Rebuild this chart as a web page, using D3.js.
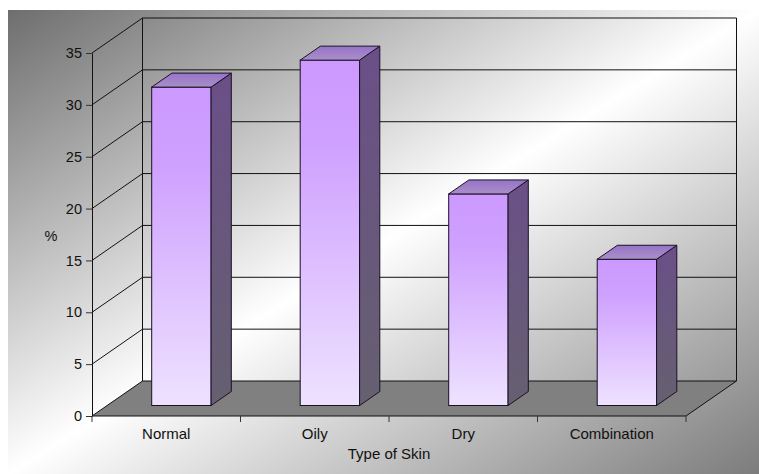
<!DOCTYPE html>
<html>
<head>
<meta charset="utf-8">
<script src="https://cdn.jsdelivr.net/npm/d3@7/dist/d3.min.js"></script>
<style>
  html, body { margin: 0; padding: 0; background: #fff; }
  svg { display: block; }
  text { font-family: "Liberation Sans", Arial, sans-serif; fill: #111; }
</style>
</head>
<body>
<svg id="chart" width="759" height="474"></svg>
<script>
// Skin type survey, share of respondents (%)
const categories = ["Normal", "Oily", "Dry", "Combination"];
const values = [30.7, 33.3, 20.4, 14.1];
const yTicks = [0, 5, 10, 15, 20, 25, 30, 35];
const yTitle = "%";
const xTitle = "Type of Skin";

const W = 759, H = 474;
const svg = d3.select("#chart");
const defs = svg.append("defs");

// Frame geometry: front plane of the floor and the oblique depth offset
const x0 = 92, x1 = 686, yBase = 416, plotH = 363;
const depthDX = 50.5, depthDY = -35;
const barFront = 0.3, barBack = 0.7;
const proj = (px, py, d) => [px + depthDX * d, py + depthDY * d];

const y = d3.scaleLinear().domain([0, 35]).range([yBase, yBase - plotH]);
const x = d3.scaleBand().domain(categories).range([x0, x1])
  .paddingInner(0.6).paddingOuter(0.3);

// Chart area background: diagonal gray-white-gray gradient
const bg = defs.append("linearGradient").attr("id", "bg")
  .attr("x1", 0).attr("y1", 0).attr("x2", 1).attr("y2", 1);
bg.append("stop").attr("offset", 0).attr("stop-color", "#6e6e6e");
bg.append("stop").attr("offset", 0.5).attr("stop-color", "#ffffff");
bg.append("stop").attr("offset", 1).attr("stop-color", "#7c7c7c");
svg.append("rect").attr("x", 8).attr("y", 10).attr("width", W - 8).attr("height", H - 10)
  .attr("fill", "url(#bg)");

// Bar face gradients
const gFront = defs.append("linearGradient").attr("id", "gFront")
  .attr("x1", 0).attr("y1", 0).attr("x2", 0).attr("y2", 1);
gFront.append("stop").attr("offset", 0).attr("stop-color", "#cc99ff");
gFront.append("stop").attr("offset", 0.25).attr("stop-color", "#cfa1ff");
gFront.append("stop").attr("offset", 1).attr("stop-color", "#eee2ff");
const gSide = defs.append("linearGradient").attr("id", "gSide")
  .attr("x1", 0).attr("y1", 0).attr("x2", 0).attr("y2", 1);
gSide.append("stop").attr("offset", 0).attr("stop-color", "#6a4f88");
gSide.append("stop").attr("offset", 1).attr("stop-color", "#666070");
const gTop = defs.append("linearGradient").attr("id", "gTop")
  .attr("x1", 0).attr("y1", 0).attr("x2", 0).attr("y2", 1);
gTop.append("stop").attr("offset", 0).attr("stop-color", "#9673c8");
gTop.append("stop").attr("offset", 1).attr("stop-color", "#a990c8");

const line = d3.line();

// Floor
svg.append("path")
  .attr("d", line([[x0, yBase], [x1, yBase], proj(x1, yBase, 1), proj(x0, yBase, 1)]) + "Z")
  .attr("fill", "#808080").attr("stroke", "#111").attr("stroke-width", 1);

// Gridlines on back wall and left side wall
const grid = svg.append("g").attr("stroke", "#111").attr("stroke-width", 1).attr("fill", "none");
yTicks.filter(t => t > 0).forEach(t => {
  grid.append("path").attr("d", line([proj(x0, y(t), 1), proj(x1, y(t), 1)]));
  grid.append("path").attr("d", line([[x0, y(t)], proj(x0, y(t), 1)]));
});
grid.append("path").attr("d", line([proj(x0, y(0), 1), proj(x0, y(35), 1)]));
grid.append("path").attr("d", line([proj(x1, y(0), 1), proj(x1, y(35), 1)]));

// Y axis on the front-left edge
const yAxis = svg.append("g").attr("transform", `translate(${x0},0)`)
  .call(d3.axisLeft(y).tickValues(yTicks).tickSize(6).tickSizeOuter(0).tickPadding(4));
yAxis.select(".domain").attr("stroke", "#111");
yAxis.selectAll(".tick line").attr("stroke", "#333");
yAxis.selectAll("text").attr("font-size", 14.5).attr("fill", "#111")
  .attr("font-family", "'Liberation Sans', Arial, sans-serif");

// X axis: tick marks at category boundaries, labels at band centres
const step = x.step();
const bounds = d3.range(categories.length + 1).map(i => x0 + i * step);
svg.append("g").selectAll("line").data(bounds).join("line")
  .attr("x1", d => d).attr("x2", d => d).attr("y1", yBase).attr("y2", yBase + 6)
  .attr("stroke", "#333");
const xAxis = svg.append("g").attr("transform", `translate(${proj(0, 0, 0)[0]},${yBase})`)
  .call(d3.axisBottom(x).tickSize(0).tickPadding(12));
xAxis.select(".domain").remove();
xAxis.selectAll("text").attr("font-size", 15).attr("fill", "#111")
  .attr("font-family", "'Liberation Sans', Arial, sans-serif");
xAxis.selectAll(".tick").attr("transform", d => `translate(${x(d) + x.bandwidth() / 2},0)`);

// Bars as oblique prisms
const bars = svg.append("g").selectAll("g").data(categories.map((c, i) => ({ c, v: values[i] })))
  .join("g");
bars.each(function(d) {
  const g = d3.select(this);
  const L = x(d.c), R = x(d.c) + x.bandwidth(), T = y(d.v), B = yBase;
  const fTL = proj(L, T, barFront), fBR = proj(R, B, barFront);
  g.append("rect")
    .attr("x", fTL[0]).attr("y", fTL[1])
    .attr("width", fBR[0] - fTL[0]).attr("height", fBR[1] - fTL[1])
    .attr("fill", "url(#gFront)").attr("stroke", "#1a1025").attr("stroke-width", 1);
  g.append("path")
    .attr("d", line([proj(R, T, barFront), proj(R, T, barBack), proj(R, B, barBack), proj(R, B, barFront)]) + "Z")
    .attr("fill", "url(#gSide)").attr("stroke", "#1a1025").attr("stroke-width", 1);
  g.append("path")
    .attr("d", line([proj(L, T, barFront), proj(L, T, barBack), proj(R, T, barBack), proj(R, T, barFront)]) + "Z")
    .attr("fill", "url(#gTop)").attr("stroke", "#1a1025").attr("stroke-width", 1);
});

// Axis titles
svg.append("text").attr("x", 51).attr("y", 236).attr("text-anchor", "middle")
  .attr("dominant-baseline", "central").attr("font-size", 14.5).text(yTitle);
svg.append("text").attr("x", (x0 + x1) / 2).attr("y", 459).attr("text-anchor", "middle")
  .attr("font-size", 15).text(xTitle);
</script>
</body>
</html>
